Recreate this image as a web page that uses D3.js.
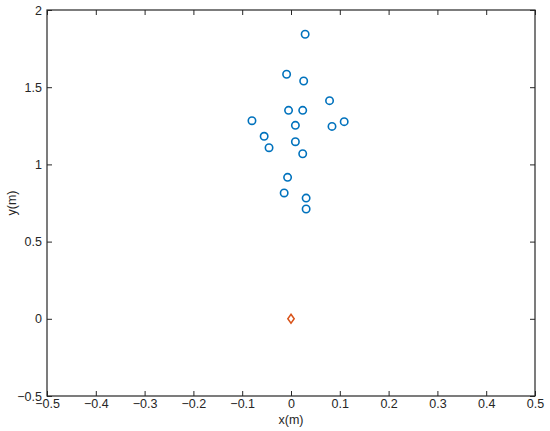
<!DOCTYPE html>
<html>
<head>
<meta charset="utf-8">
<script src="https://cdn.jsdelivr.net/npm/d3@7"></script>
<style>
  body { margin: 0; background: #fff; }
  text { font-family: "Liberation Sans", Arial, Helvetica, sans-serif; }
</style>
</head>
<body>
<svg id="chart"></svg>
<script>
// measured points (circles)
const pointX = [0.029, -0.009, 0.026, 0.079, -0.005, 0.024, -0.080, 0.009, 0.084, 0.109,
  -0.055, -0.045, 0.009, 0.024, -0.007, -0.014, 0.031, 0.031];
const pointY = [1.843, 1.584, 1.540, 1.413, 1.350, 1.350, 1.283, 1.253, 1.246, 1.277,
  1.182, 1.108, 1.147, 1.069, 0.916, 0.815, 0.782, 0.711];

// source position (diamond)
const sourceX = [0];
const sourceY = [0];

const xTicks = [-0.5, -0.4, -0.3, -0.2, -0.1, 0, 0.1, 0.2, 0.3, 0.4, 0.5];
const yTicks = [-0.5, 0, 0.5, 1, 1.5, 2];

const width = 550, height = 431;
const margin = { top: 10, right: 15, bottom: 35, left: 47 };
const fontSize = 12.5;

const svg = d3.select("#chart").attr("width", width).attr("height", height);

const x = d3.scaleLinear().domain([-0.5, 0.5]).range([margin.left, width - margin.right]);
const y = d3.scaleLinear().domain([-0.5, 2]).range([height - margin.bottom, margin.top]);

const fmt = d => d3.format("")(d);

// axes with inward ticks
const tickLen = 5;
svg.append("g")
  .attr("transform", `translate(0,${y(-0.5)})`)
  .call(d3.axisBottom(x).tickValues(xTicks).tickFormat(fmt).tickSizeInner(-tickLen).tickSizeOuter(0).tickPadding(3))
  .call(g => g.selectAll("text").attr("font-size", fontSize).attr("fill", "#262626"));

svg.append("g")
  .attr("transform", `translate(0,${y(2)})`)
  .call(d3.axisTop(x).tickValues(xTicks).tickFormat("").tickSizeInner(-tickLen).tickSizeOuter(0));

svg.append("g")
  .attr("transform", `translate(${x(-0.5)},0)`)
  .call(d3.axisLeft(y).tickValues(yTicks).tickFormat(fmt).tickSizeInner(-tickLen).tickSizeOuter(0).tickPadding(5))
  .call(g => g.selectAll("text").attr("font-size", fontSize).attr("fill", "#262626"));

svg.append("g")
  .attr("transform", `translate(${x(0.5)},0)`)
  .call(d3.axisRight(y).tickValues(yTicks).tickFormat("").tickSizeInner(-tickLen).tickSizeOuter(0));

svg.selectAll(".domain").remove();
svg.selectAll(".tick line").attr("stroke", "#262626");

// box
svg.append("rect")
  .attr("x", x(-0.5)).attr("y", y(2))
  .attr("width", x(0.5) - x(-0.5)).attr("height", y(-0.5) - y(2))
  .attr("fill", "none").attr("stroke", "#262626").attr("stroke-width", 1.2);

// axis labels
svg.append("text")
  .attr("x", x(0)).attr("y", 424)
  .attr("text-anchor", "middle").attr("font-size", fontSize).attr("fill", "#262626")
  .text("x(m)");

svg.append("text")
  .attr("transform", `translate(16,${y(0.75)}) rotate(-90)`)
  .attr("text-anchor", "middle").attr("font-size", fontSize).attr("fill", "#262626")
  .text("y(m)");

// circles
svg.append("g").selectAll("circle")
  .data(d3.zip(pointX, pointY))
  .enter()
  .append("circle")
  .attr("cx", d => x(d[0]))
  .attr("cy", d => y(d[1]))
  .attr("r", 3.7)
  .attr("fill", "none")
  .attr("stroke", "#0072BD")
  .attr("stroke-width", 1.6);

// diamond
svg.append("g").selectAll("path")
  .data(d3.zip(sourceX, sourceY))
  .enter()
  .append("path")
  .attr("transform", d => `translate(${x(d[0])},${y(d[1])})`)
  .attr("d", "M0,-4.5L3.2,0L0,4.5L-3.2,0Z")
  .attr("fill", "none")
  .attr("stroke", "#D95319")
  .attr("stroke-width", 1.5);
</script>
</body>
</html>
